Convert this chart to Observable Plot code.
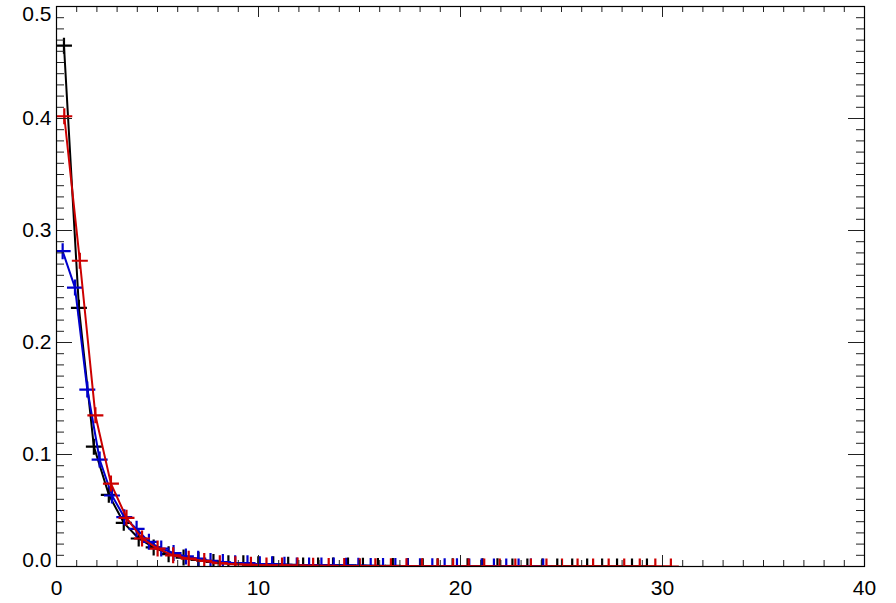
<!DOCTYPE html>
<html>
<head>
<meta charset="utf-8">
<script src="https://cdn.jsdelivr.net/npm/d3@7"></script>
<script src="https://cdn.jsdelivr.net/npm/@observablehq/plot@0.6"></script>
<style>
  html, body { margin: 0; padding: 0; background: #fff; }
</style>
</head>
<body>
<div id="chart"></div>
<script>
// ---- data ----
const blackX = [0.37, 1.11, 1.85, 2.59, 3.33, 4.07, 4.81, 5.55, 6.29, 7.03, 7.77, 8.51, 9.25, 9.99, 10.73, 11.47, 12.21, 12.95, 13.69, 14.43, 15.17, 15.91, 16.65, 17.39, 18.13, 18.87, 19.61, 20.35, 21.09, 21.83, 22.57, 23.31, 24.05, 24.79, 25.53, 26.27, 27.01, 27.75, 28.49, 29.23];
const blackY = [0.465, 0.231, 0.107, 0.064, 0.039, 0.025, 0.017, 0.011, 0.008, 0.006, 0.004, 0.003, 0.003, 0.002, 0.002, 0.0015, 0.001, 0.001, 0.001, 0.0008, 0.0006, 0.0005, 0.0005, 0.0004, 0.0003, 0.0003, 0.0003, 0.0002, 0.0002, 0.0002, 0.0001, 0.0001, 0.0001, 0.0001, 0.0001, 0, 0.0001, 0, 0, 0];

const blueX = [0.305, 0.915, 1.525, 2.135, 2.745, 3.355, 3.965, 4.575, 5.185, 5.795, 6.405, 7.015, 7.625, 8.235, 8.845, 9.455, 10.065, 10.675, 11.285, 11.895, 12.505, 13.115, 13.725, 14.335, 14.945, 15.555, 16.165, 16.775, 17.385, 17.995, 18.605, 19.215, 19.825, 20.435, 21.045, 21.655, 22.265, 22.875, 23.485, 24.095];
const blueY = [0.2815, 0.249, 0.158, 0.0955, 0.0634, 0.044, 0.0336, 0.022, 0.016, 0.012, 0.009, 0.007, 0.005, 0.004, 0.003, 0.003, 0.002, 0.002, 0.0015, 0.001, 0.001, 0.001, 0.0008, 0.0007, 0.0006, 0.0005, 0.0004, 0.0004, 0.0003, 0.0003, 0.0002, 0.0002, 0.0002, 0.0001, 0.0001, 0.0001, 0.0001, 0, 0.0001, 0];

const redX = [0.385, 1.155, 1.925, 2.695, 3.465, 4.235, 5.005, 5.775, 6.545, 7.315, 8.085, 8.855, 9.625, 10.395, 11.165, 11.935, 12.705, 13.475, 14.245, 15.015, 15.785, 16.555, 17.325, 18.095, 18.865, 19.635, 20.405, 21.175, 21.945, 22.715, 23.485, 24.255, 25.025, 25.795, 26.565, 27.335, 28.105, 28.875, 29.645, 30.415];
const redY = [0.402, 0.273, 0.135, 0.074, 0.0435, 0.025, 0.016, 0.010, 0.007, 0.005, 0.003, 0.002, 0.0015, 0.001, 0.001, 0.0008, 0.0006, 0.0005, 0.0004, 0.0003, 0.0003, 0.0002, 0.0002, 0.0002, 0.0001, 0.0001, 0.0001, 0.0001, 0, 0.0001, 0, 0, 0, 0, 0, 0, 0, 0, 0, 0];

const xTickLabels = [0, 10, 20, 30, 40];
const yTickLabels = [0.0, 0.1, 0.2, 0.3, 0.4, 0.5];

// ---- build ----
const seriesDefs = [
  {name: "black", color: "#000000", xs: blackX, ys: blackY},
  {name: "blue", color: "#0000cc", xs: blueX, ys: blueY},
  {name: "red", color: "#cc0000", xs: redX, ys: redY}
];

const W = 896, H = 603;
const mL = 56, mR = 32, mT = 6, mB = 37;
const innerW = W - mL - mR, innerH = H - mT - mB;

const xMinor = d3.range(0, 41, 1);
const yMinor = d3.range(0, 51, 1).map(d => d / 100);

const plusSymbol = {
  draw(ctx, size) {
    const r = Math.sqrt(size / Math.PI);
    ctx.moveTo(-r, 0); ctx.lineTo(r, 0);
    ctx.moveTo(0, -r); ctx.lineTo(0, r);
  }
};

const marks = [];
for (const s of seriesDefs) {
  const data = s.xs.map((x, i) => ({x, y: s.ys[i]}));
  marks.push(Plot.line(data, {x: "x", y: "y", stroke: s.color, strokeWidth: 2, clip: true}));
  marks.push(Plot.dot(data, {x: "x", y: "y", symbol: plusSymbol, r: 8, stroke: s.color, fill: "none", strokeWidth: 2.2, clip: true}));
}

const tickStroke = "#222";
// bottom / top ticks
marks.push(Plot.ruleX(xMinor, {x: d => d, insetTop: innerH - 6, stroke: tickStroke, strokeWidth: 1}));
marks.push(Plot.ruleX(xMinor, {x: d => d, insetBottom: innerH - 6, stroke: tickStroke, strokeWidth: 1}));
marks.push(Plot.ruleX(xTickLabels, {x: d => d, insetTop: innerH - 11, stroke: tickStroke, strokeWidth: 1}));
marks.push(Plot.ruleX(xTickLabels, {x: d => d, insetBottom: innerH - 11, stroke: tickStroke, strokeWidth: 1}));
// left / right ticks
marks.push(Plot.ruleY(yMinor, {y: d => d, insetRight: innerW - 8, stroke: tickStroke, strokeWidth: 1}));
marks.push(Plot.ruleY(yMinor, {y: d => d, insetLeft: innerW - 8, stroke: tickStroke, strokeWidth: 1}));
marks.push(Plot.ruleY(yTickLabels, {y: d => d, insetRight: innerW - 16, stroke: tickStroke, strokeWidth: 1}));
marks.push(Plot.ruleY(yTickLabels, {y: d => d, insetLeft: innerW - 16, stroke: tickStroke, strokeWidth: 1}));

marks.push(Plot.frame({stroke: "#000", strokeWidth: 1.2}));

// tick labels
const fs = 21;
marks.push(Plot.text(xTickLabels, {x: d => d, frameAnchor: "bottom", dy: 14, lineAnchor: "top", text: d => String(d), fontSize: fs, fill: "#000"}));
const yFmt = d3.format(".1f");
const yMid = yTickLabels.filter(d => d > 0 && d < 0.5);
marks.push(Plot.text(yMid, {y: d => d, frameAnchor: "left", dx: -5, textAnchor: "end", lineAnchor: "middle", text: d => yFmt(d), fontSize: fs, fill: "#000"}));
marks.push(Plot.text(yTickLabels.filter(d => d === 0), {y: d => d, frameAnchor: "left", dx: -5, textAnchor: "end", lineAnchor: "bottom", text: d => yFmt(d), fontSize: fs, fill: "#000"}));
marks.push(Plot.text(yTickLabels.filter(d => d === 0.5), {y: d => d, frameAnchor: "left", dx: -5, textAnchor: "end", lineAnchor: "top", text: d => yFmt(d), fontSize: fs, fill: "#000"}));

const chart = Plot.plot({
  width: W,
  height: H,
  marginLeft: mL,
  marginRight: mR,
  marginTop: mT,
  marginBottom: mB,
  x: {domain: [0, 40], axis: null},
  y: {domain: [0, 0.5], axis: null},
  style: {fontFamily: "'Liberation Sans', Arial, sans-serif", fontSize: "21px", background: "#fff", color: "#000", overflow: "visible"},
  marks
});
document.getElementById("chart").appendChild(chart);
</script>
</body>
</html>
